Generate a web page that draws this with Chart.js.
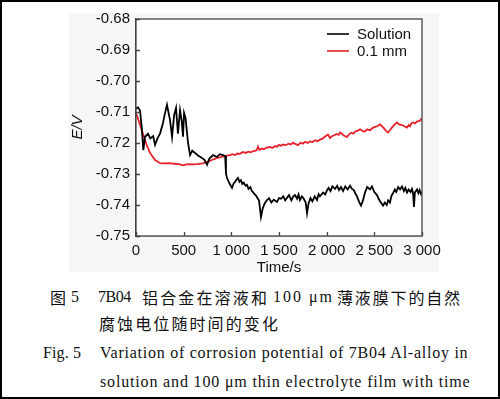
<!DOCTYPE html>
<html>
<head>
<meta charset="utf-8">
<script src="https://cdn.jsdelivr.net/npm/chart.js@4"></script>
<style>
  body { margin: 0; background: #fff; }
  #page { position: relative; width: 500px; height: 399px; overflow: hidden; background: #fff; }
  #shade { position: absolute; left: 69px; top: 13px; width: 370px; height: 259px; background: #f6f6f6; }
  #wrap { position: absolute; left: 0; top: 0; width: 500px; height: 280px; }
  #frame { position: absolute; left: 0; top: 0; width: 500px; height: 399px; border: 2px solid #000; box-sizing: border-box; pointer-events: none; }
  .cap { position: absolute; white-space: nowrap; line-height: 1; color: #111; }
  .zh { font-family: "Noto Sans CJK SC", sans-serif; font-size: 16px; }
  .en { font-family: "Liberation Serif", serif; font-size: 16px; }
</style>
</head>
<body>
<div id="page">
  <div id="shade"></div>
  <div id="wrap"><canvas id="chart" width="500" height="280"></canvas></div>

  <span class="cap zh" id="z0" style="left:50px;top:289px">图</span>
  <span class="cap en" id="z1" style="left:71px;top:289px">5</span>
  <span class="cap en" id="z2" style="left:98px;top:289px">7B04</span>
  <span class="cap zh" id="z3" style="left:142px;top:289px">铝合金在溶液和</span>
  <span class="cap en" id="z4" style="left:273px;top:289px">100 μm</span>
  <span class="cap zh" id="z5" style="left:337px;top:289px">薄液膜下的自然</span>
  <span class="cap zh" id="z6" style="left:99px;top:315px">腐蚀电位随时间的变化</span>
  <span class="cap en" id="e0" style="left:43px;top:345px">Fig. 5</span>
  <span class="cap en" id="e1" style="left:100px;top:345px">Variation of corrosion potential of 7B04 Al-alloy in</span>
  <span class="cap en" id="e2" style="left:100px;top:374px">solution and 100 μm thin electrolyte film with time</span>

  <div id="frame"></div>
</div>

<script>
  // Data: [time (s), potential (V)]
  const seriesNames = ['Solution', '0.1 mm'];
  const seriesColors = ['#000000', '#e8202a'];

  const solution = [
    [0, -0.7090], [20, -0.7085], [42, -0.7095], [60, -0.7150], [77, -0.7223], [94, -0.7180], [110, -0.7175], [126, -0.7170], [150, -0.7185], [180, -0.7178],
    [200, -0.7206], [225, -0.7185], [252, -0.7170], [270, -0.7150], [283, -0.7136], [300, -0.7110], [325, -0.7077], [340, -0.7100], [357, -0.7126], [378, -0.7180],
    [400, -0.7110], [420, -0.7087], [440, -0.7170], [462, -0.7094], [480, -0.7130], [493, -0.7180], [504, -0.7103], [520, -0.7120], [546, -0.7200], [567, -0.7239],
    [590, -0.7225], [619, -0.7232], [650, -0.7240], [692, -0.7248], [720, -0.7255], [745, -0.7270], [770, -0.7250], [808, -0.7239], [850, -0.7245], [880, -0.7236],
    [913, -0.7239], [935, -0.7242], [944, -0.7300], [955, -0.7313], [980, -0.7330], [1007, -0.7345], [1025, -0.7330], [1040, -0.7325], [1055, -0.7318], [1070, -0.7313],
    [1085, -0.7325], [1100, -0.7320], [1115, -0.7332], [1130, -0.7328], [1150, -0.7338], [1164, -0.7335], [1180, -0.7348], [1200, -0.7342], [1215, -0.7355], [1227, -0.7358],
    [1245, -0.7366], [1260, -0.7370], [1275, -0.7378], [1290, -0.7385], [1300, -0.7410], [1311, -0.7439], [1330, -0.7410], [1350, -0.7395], [1374, -0.7384], [1395, -0.7378],
    [1420, -0.7392], [1445, -0.7383], [1479, -0.7390], [1500, -0.7378], [1520, -0.7380], [1545, -0.7372], [1565, -0.7385], [1584, -0.7377], [1605, -0.7368], [1630, -0.7385],
    [1650, -0.7372], [1668, -0.7368], [1690, -0.7380], [1705, -0.7366], [1720, -0.7384], [1740, -0.7372], [1760, -0.7380], [1780, -0.7392], [1794, -0.7426], [1810, -0.7395],
    [1830, -0.7378], [1850, -0.7388], [1875, -0.7372], [1899, -0.7384], [1915, -0.7365], [1930, -0.7372], [1962, -0.7360], [1985, -0.7366], [2004, -0.7352], [2020, -0.7345],
    [2040, -0.7355], [2060, -0.7340], [2088, -0.7348], [2110, -0.7338], [2130, -0.7352], [2150, -0.7342], [2172, -0.7355], [2195, -0.7340], [2220, -0.7350], [2245, -0.7338],
    [2266, -0.7348], [2285, -0.7352], [2300, -0.7362], [2318, -0.7372], [2340, -0.7390], [2360, -0.7402], [2380, -0.7386], [2402, -0.7360], [2425, -0.7342], [2455, -0.7350],
    [2475, -0.7340], [2500, -0.7358], [2528, -0.7368], [2545, -0.7380], [2560, -0.7388], [2591, -0.7402], [2610, -0.7392], [2630, -0.7400], [2645, -0.7385], [2664, -0.7392],
    [2680, -0.7370], [2696, -0.7362], [2715, -0.7350], [2730, -0.7358], [2750, -0.7342], [2770, -0.7350], [2790, -0.7340], [2810, -0.7355], [2825, -0.7345], [2843, -0.7360],
    [2860, -0.7350], [2880, -0.7358], [2895, -0.7348], [2906, -0.7362], [2916, -0.7406], [2925, -0.7360], [2948, -0.7350], [2962, -0.7362], [2975, -0.7352], [2990, -0.7365],
    [3000, -0.7358]
  ];

  const film = [
    [0, -0.7103], [30, -0.7130], [73, -0.7170], [110, -0.7205], [147, -0.7232], [200, -0.7255], [252, -0.7265], [300, -0.7266], [350, -0.7265], [400, -0.7267],
    [450, -0.7268], [493, -0.7272], [540, -0.7268], [600, -0.7269], [640, -0.7268], [700, -0.7266], [745, -0.7261], [775, -0.7258], [800, -0.7254], [825, -0.7251],
    [850, -0.7248], [875, -0.7247], [900, -0.7244], [925, -0.7243], [950, -0.7241], [986, -0.7239], [1010, -0.7236], [1040, -0.7239], [1065, -0.7234], [1091, -0.7235],
    [1122, -0.7229], [1150, -0.7232], [1180, -0.7228], [1205, -0.7230], [1230, -0.7226], [1255, -0.7225], [1269, -0.7222], [1280, -0.7212], [1295, -0.7222], [1320, -0.7218],
    [1340, -0.7220], [1370, -0.7215], [1405, -0.7213], [1430, -0.7216], [1460, -0.7210], [1480, -0.7212], [1500, -0.7206], [1520, -0.7209], [1542, -0.7205], [1570, -0.7207],
    [1600, -0.7202], [1625, -0.7205], [1647, -0.7199], [1670, -0.7203], [1700, -0.7207], [1725, -0.7199], [1750, -0.7202], [1775, -0.7196], [1800, -0.7200], [1825, -0.7195],
    [1850, -0.7197], [1880, -0.7191], [1905, -0.7194], [1930, -0.7189], [1955, -0.7186], [1980, -0.7180], [2000, -0.7176], [2014, -0.7173], [2035, -0.7184], [2055, -0.7178],
    [2080, -0.7175], [2105, -0.7171], [2125, -0.7174], [2140, -0.7166], [2160, -0.7170], [2180, -0.7176], [2213, -0.7181], [2235, -0.7172], [2260, -0.7167], [2280, -0.7170],
    [2300, -0.7163], [2325, -0.7160], [2350, -0.7156], [2375, -0.7161], [2400, -0.7163], [2425, -0.7156], [2455, -0.7159], [2480, -0.7152], [2500, -0.7149], [2530, -0.7146],
    [2560, -0.7140], [2580, -0.7146], [2600, -0.7152], [2620, -0.7160], [2643, -0.7166], [2665, -0.7158], [2690, -0.7148], [2715, -0.7140], [2738, -0.7134], [2760, -0.7140],
    [2790, -0.7142], [2815, -0.7146], [2843, -0.7150], [2860, -0.7142], [2875, -0.7146], [2890, -0.7136], [2906, -0.7134], [2925, -0.7137], [2950, -0.7130], [2975, -0.7129],
    [2990, -0.7123], [3000, -0.7126]
  ];

  // Tick labels
  const xTickValues = [0, 500, 1000, 1500, 2000, 2500, 3000];
  const xTickLabels = ['0', '500', '1 000', '1 500', '2 000', '2 500', '3 000'];
  const yTickValues = [-0.75, -0.74, -0.73, -0.72, -0.71, -0.70, -0.69, -0.68];
  const yTickLabels = ['-0.75', '-0.74', '-0.73', '-0.72', '-0.71', '-0.70', '-0.69', '-0.68'];

  const toPoints = rows => rows.map(r => ({ x: r[0], y: r[1] }));

  const sansFont = '"Liberation Sans", Arial, sans-serif';
  const axisColor = '#444';

  // Frame, inward ticks and legend
  const framePlugin = {
    id: 'frame',
    beforeDatasetsDraw(chart) {
      const { ctx, chartArea: a } = chart;
      ctx.save();
      ctx.fillStyle = '#fff';
      ctx.fillRect(a.left, a.top, a.right - a.left, a.bottom - a.top);
      ctx.restore();
    },
    afterDraw(chart) {
      const { ctx, chartArea: a, scales: { x, y } } = chart;
      ctx.save();
      ctx.strokeStyle = axisColor;
      ctx.lineWidth = 1.3;
      ctx.strokeRect(a.left, a.top, a.right - a.left, a.bottom - a.top);

      ctx.beginPath();
      xTickValues.forEach(v => {
        const px = Math.round(x.getPixelForValue(v)) + 0.5;
        ctx.moveTo(px, a.bottom);
        ctx.lineTo(px, a.bottom - 4);
      });
      yTickValues.forEach(v => {
        const py = Math.round(y.getPixelForValue(v)) + 0.5;
        ctx.moveTo(a.left, py);
        ctx.lineTo(a.left + 4, py);
      });
      ctx.stroke();

      // legend
      ctx.font = '15px ' + sansFont;
      ctx.textBaseline = 'middle';
      seriesNames.forEach((name, i) => {
        const ly = a.top + 15 + i * 17;
        ctx.strokeStyle = seriesColors[i];
        ctx.lineWidth = 1.6;
        ctx.beginPath();
        ctx.moveTo(a.right - 95, ly);
        ctx.lineTo(a.right - 73, ly);
        ctx.stroke();
        ctx.fillStyle = '#111';
        ctx.fillText(name, a.right - 65, ly + 1);
      });
      ctx.restore();
    }
  };

  new Chart(document.getElementById('chart'), {
    type: 'line',
    data: {
      datasets: [
        {
          label: seriesNames[0],
          data: toPoints(solution),
          borderColor: seriesColors[0],
          borderWidth: 1.8,
          pointRadius: 0,
          tension: 0
        },
        {
          label: seriesNames[1],
          data: toPoints(film),
          borderColor: seriesColors[1],
          borderWidth: 1.8,
          pointRadius: 0,
          tension: 0
        }
      ]
    },
    options: {
      responsive: false,
      animation: false,
      devicePixelRatio: 1,
      layout: { padding: { left: 60, top: 19, right: 78, bottom: 0 } },
      plugins: {
        legend: { display: false },
        tooltip: { enabled: false }
      },
      scales: {
        x: {
          type: 'linear',
          min: 0,
          max: 3000,
          afterFit: s => { s.height = 44; },
          afterBuildTicks: s => { s.ticks = xTickValues.map(v => ({ value: v })); },
          grid: { display: false, drawTicks: false },
          border: { display: true, color: axisColor, width: 1.3 },
          ticks: {
            padding: 6,
            color: '#111',
            font: { family: sansFont, size: 15 },
            maxRotation: 0,
            callback: v => xTickLabels[xTickValues.indexOf(v)]
          },
          title: {
            display: true,
            text: 'Time/s',
            color: '#111',
            font: { family: sansFont, size: 15 },
            padding: { top: 3, bottom: 3 }
          }
        },
        y: {
          type: 'linear',
          min: -0.75,
          max: -0.68,
          afterFit: s => { s.width = 76; },
          afterBuildTicks: s => { s.ticks = yTickValues.map(v => ({ value: v })); },
          grid: { display: false, drawTicks: false },
          border: { display: true, color: axisColor, width: 1.3 },
          ticks: {
            padding: 6,
            color: '#111',
            font: { family: sansFont, size: 15 },
            callback: v => yTickLabels[yTickValues.indexOf(v)]
          },
          title: {
            display: true,
            text: 'E/V',
            color: '#111',
            font: { family: sansFont, size: 15, style: 'italic' },
            padding: { top: 9, bottom: 9 }
          }
        }
      }
    },
    plugins: [framePlugin]
  });

  // stretch caption pieces to the widths seen in the figure
  function fitText(id, width) {
    const el = document.getElementById(id);
    const n = el.textContent.length;
    if (n < 2) return;
    const w = el.getBoundingClientRect().width;
    el.style.letterSpacing = ((width - w) / (n - 0.5)) + 'px';
  }
  fitText('z2', 33);
  fitText('z3', 126);
  fitText('z4', 60);
  fitText('z5', 124);
  fitText('z6', 180);
  fitText('e0', 38);
  fitText('e1', 368);
  fitText('e2', 370);
</script>
</body>
</html>
